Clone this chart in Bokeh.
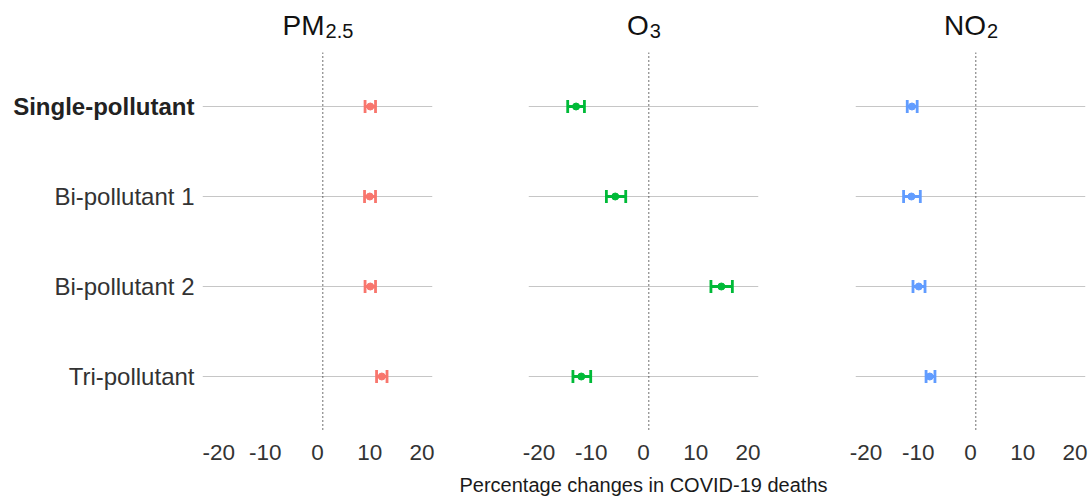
from bokeh.plotting import figure
from bokeh.models import (ColumnDataSource, Range1d, FixedTicker,
                          Span, Whisker, TeeHead)
from bokeh.core.properties import value
from bokeh.layouts import row, column
from bokeh.embed import file_html
from bokeh.resources import INLINE

# ---------------- data ----------------
categories = ["Single-pollutant", "Bi-pollutant 1", "Bi-pollutant 2", "Tri-pollutant"]
bold_category = "Single-pollutant"
title_main = ["PM", "O", "NO"]
title_sub = ["2.5", "3", "2"]
colors = ["#F8766D", "#00BA38", "#619CFF"]

pm25_est = [10.1, 10.0, 10.1, 12.3]
pm25_low = [9.1, 9.0, 9.1, 11.3]
pm25_high = [11.1, 11.1, 11.1, 13.3]

o3_est = [-12.9, -5.4, 14.9, -11.9]
o3_low = [-14.5, -7.1, 12.9, -13.5]
o3_high = [-11.3, -3.4, 17.0, -10.1]

no2_est = [-11.2, -11.3, -9.9, -7.8]
no2_low = [-12.1, -12.8, -11.0, -8.5]
no2_high = [-10.2, -9.6, -8.7, -6.8]

x_ticks = [-20, -10, 0, 10, 20]
x_tick_labels = ["-20", "-10", "0", "10", "20"]
x_limits = (-22, 22)
ref_value = 1
x_title = "Percentage changes in COVID-19 deaths"

series = [
    (pm25_est, pm25_low, pm25_high),
    (o3_est, o3_low, o3_high),
    (no2_est, no2_low, no2_high),
]

# discrete positions, top to bottom (like a ggplot discrete scale)
n_cat = len(categories)
cat_pos = [n_cat - i for i in range(n_cat)]
y_limits = (1 - 0.6, n_cat + 0.6)

FONT = "Liberation Sans"
ADV = {"P": 0.667, "M": 0.833, "O": 0.778, "N": 0.722, "2": 0.556,
       ".": 0.278, "5": 0.556, "3": 0.556}
MAIN_SIZE = 28
SUB_SIZE = 20

TOP_H = 52
BOTTOM_H = 71
TOTAL_H = 501
FRAME_W = 230

# (left border, right border) of each panel
borders = [(0, 20), (76, 76), (21, 6)]
LABEL_W = 202


def text_width(s, size):
    return sum(ADV.get(ch, 0.556) for ch in s) * size


def bare(p):
    p.axis.visible = False
    p.grid.visible = False
    p.outline_line_color = None
    return p


# ---------- category label strip ----------
lab = bare(figure(width=LABEL_W, height=TOTAL_H, x_range=Range1d(0, 1),
                  y_range=Range1d(*y_limits), output_backend="svg",
                  toolbar_location=None, min_border_left=0, min_border_right=0,
                  min_border_top=TOP_H, min_border_bottom=BOTTOM_H,
                  background_fill_color="white", border_fill_color="white"))
lab_src = ColumnDataSource(dict(x=[1] * n_cat, y=cat_pos, text=categories,
                                style=["bold" if c == bold_category else "normal"
                                       for c in categories],
                                color=["#222222" if c == bold_category else "#333333"
                                       for c in categories]))
lab.text(x="x", y="y", text="text", source=lab_src, x_offset=-8,
         text_align="right", text_baseline="middle", text_font=value(FONT),
         text_font_size="24px", text_font_style="style", text_color="color")


def make_panel(k):
    bl, br = borders[k]
    xr = Range1d(*x_limits)
    width = bl + FRAME_W + br

    # title strip
    t = bare(figure(width=width, height=TOP_H, x_range=xr, y_range=Range1d(0, TOP_H),
                    output_backend="svg", toolbar_location=None,
                    min_border_left=bl, min_border_right=br,
                    min_border_top=0, min_border_bottom=0,
                    background_fill_color="white", border_fill_color="white"))
    wm = text_width(title_main[k], MAIN_SIZE)
    ws = text_width(title_sub[k], SUB_SIZE)
    off = -(wm + ws) / 2 + wm
    t.text(x=[0], y=[27], text=[title_main[k]], x_offset=off, text_align="right",
           text_baseline="alphabetic", text_font=value(FONT),
           text_font_size=f"{MAIN_SIZE}px", text_color="#111111")
    t.text(x=[0], y=[22], text=[title_sub[k]], x_offset=off + 1, text_align="left",
           text_baseline="alphabetic", text_font=value(FONT),
           text_font_size=f"{SUB_SIZE}px", text_color="#111111")

    # panel
    p = figure(width=width, height=TOTAL_H - TOP_H,
               x_range=xr, y_range=Range1d(*y_limits),
               output_backend="svg", toolbar_location=None,
               min_border_left=bl, min_border_right=br,
               min_border_top=0, min_border_bottom=BOTTOM_H,
               outline_line_color=None,
               background_fill_color="white", border_fill_color="white")
    p.yaxis.visible = False
    p.xgrid.visible = False
    p.ygrid.ticker = FixedTicker(ticks=cat_pos)
    p.ygrid.grid_line_color = "#C6C6C6"
    p.ygrid.grid_line_width = 1.2

    xa = p.xaxis[0]
    xa.ticker = FixedTicker(ticks=x_ticks)
    xa.major_label_overrides = {t_: l for t_, l in zip(x_ticks, x_tick_labels)}
    xa.axis_line_color = None
    xa.major_tick_line_color = None
    xa.minor_tick_line_color = None
    xa.major_tick_out = 0
    xa.major_tick_in = 0
    xa.major_label_standoff = 14
    xa.major_label_text_font = FONT
    xa.major_label_text_font_size = "22.5px"
    xa.major_label_text_color = "#333333"
    if k == 1:
        xa.axis_label = x_title
        xa.axis_label_text_font = FONT
        xa.axis_label_text_font_size = "20px"
        xa.axis_label_text_font_style = "normal"
        xa.axis_label_text_color = "#1a1a1a"
        xa.axis_label_standoff = 11

    p.add_layout(Span(location=ref_value, dimension="height",
                      line_color="#333333", line_dash="1 3", line_width=1.4))

    est, low, high = series[k]
    c = colors[k]
    src = ColumnDataSource(dict(y=cat_pos, est=est, lo=low, hi=high))
    w = Whisker(source=src, base="y", lower="lo", upper="hi",
                dimension="width", line_color=c, line_width=2.8, level="glyph",
                lower_head=TeeHead(size=13, line_color=c, line_width=2.8),
                upper_head=TeeHead(size=13, line_color=c, line_width=2.8))
    p.add_layout(w)
    p.scatter("est", "y", source=src, size=7, color=c)
    return column(t, p, spacing=0)


layout = row(lab, make_panel(0), make_panel(1), make_panel(2), spacing=0)
open("out.html", "w").write(file_html(layout, INLINE))
